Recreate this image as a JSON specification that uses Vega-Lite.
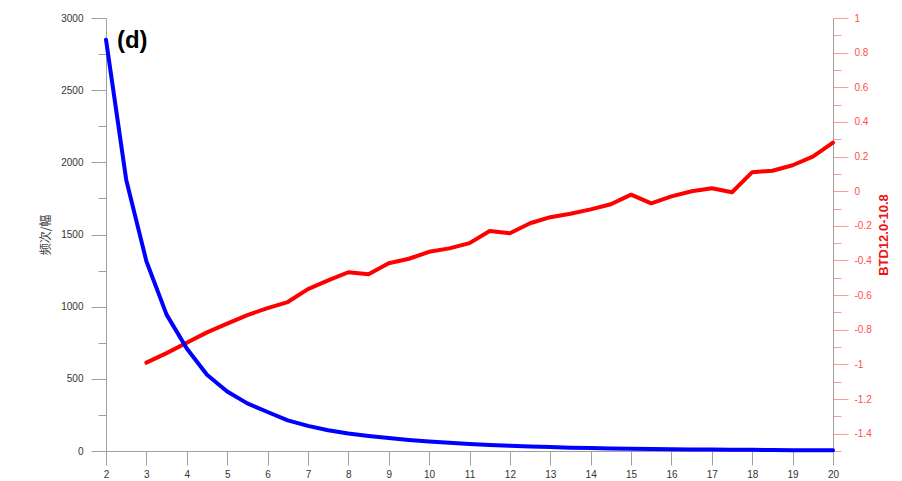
{
  "$schema": "https://vega.github.io/schema/vega-lite/v6.json",
  "width": 727,
  "height": 433,
  "autosize": "none",
  "padding": {"left": 106, "top": 18, "right": 69, "bottom": 30},
  "background": "white",
  "config": {
    "view": {"stroke": null},
    "axis": {
      "labelFont": "Liberation Sans",
      "titleFont": "Liberation Sans",
      "grid": false,
      "domainColor": "#a0a0a0",
      "tickColor": "#a0a0a0",
      "labelFontSize": 10,
      "labelColor": "#333333"
    }
  },
  "data": {
    "values": [
      {"x": 2, "freq": 2850, "btd": null},
      {"x": 2.5, "freq": 1880, "btd": null},
      {"x": 3, "freq": 1315, "btd": -0.99},
      {"x": 3.5, "freq": 945, "btd": -0.935},
      {"x": 4, "freq": 710, "btd": -0.875},
      {"x": 4.5, "freq": 528, "btd": -0.815},
      {"x": 5, "freq": 412, "btd": -0.765},
      {"x": 5.5, "freq": 330, "btd": -0.715},
      {"x": 6, "freq": 270, "btd": -0.675},
      {"x": 6.5, "freq": 212, "btd": -0.64},
      {"x": 7, "freq": 174, "btd": -0.565},
      {"x": 7.5, "freq": 144, "btd": -0.515},
      {"x": 8, "freq": 121, "btd": -0.468},
      {"x": 8.5, "freq": 104, "btd": -0.48},
      {"x": 9, "freq": 90, "btd": -0.416},
      {"x": 9.5, "freq": 77, "btd": -0.39},
      {"x": 10, "freq": 66, "btd": -0.35},
      {"x": 10.5, "freq": 57, "btd": -0.33},
      {"x": 11, "freq": 49, "btd": -0.3},
      {"x": 11.5, "freq": 42, "btd": -0.23},
      {"x": 12, "freq": 36, "btd": -0.243},
      {"x": 12.5, "freq": 31, "btd": -0.185},
      {"x": 13, "freq": 27, "btd": -0.15},
      {"x": 13.5, "freq": 23, "btd": -0.13},
      {"x": 14, "freq": 20, "btd": -0.105},
      {"x": 14.5, "freq": 17, "btd": -0.075},
      {"x": 15, "freq": 15, "btd": -0.02},
      {"x": 15.5, "freq": 13, "btd": -0.07},
      {"x": 16, "freq": 12, "btd": -0.03},
      {"x": 16.5, "freq": 11, "btd": 0.0},
      {"x": 17, "freq": 10, "btd": 0.017},
      {"x": 17.5, "freq": 9, "btd": -0.006},
      {"x": 18, "freq": 8, "btd": 0.11},
      {"x": 18.5, "freq": 7, "btd": 0.118},
      {"x": 19, "freq": 6, "btd": 0.15},
      {"x": 19.5, "freq": 5, "btd": 0.2},
      {"x": 20, "freq": 5, "btd": 0.28}
    ]
  },
  "layer": [
    {
      "mark": {"type": "line", "color": "#ff0000", "strokeWidth": 4, "strokeJoin": "round", "strokeCap": "round"},
      "encoding": {
        "x": {
          "field": "x",
          "type": "quantitative",
          "scale": {"domain": [2, 20], "nice": false, "zero": false},
          "axis": {
            "orient": "bottom",
            "title": null,
            "values": [2, 2.5, 3, 3.5, 4, 4.5, 5, 5.5, 6, 6.5, 7, 7.5, 8, 8.5, 9, 9.5, 10, 10.5, 11, 11.5, 12, 12.5, 13, 13.5, 14, 14.5, 15, 15.5, 16, 16.5, 17, 17.5, 18, 18.5, 19, 19.5, 20],
            "labelExpr": "datum.value % 1 === 0 ? datum.label : ''",
            "tickSize": {"condition": {"test": "datum.value % 1 === 0", "value": 14}, "value": 8},
            "labelPadding": 4,
            "labelFlush": false,
            "labelOverlap": false
          }
        },
        "y": {
          "field": "btd",
          "type": "quantitative",
          "scale": {"domain": [-1.5, 1], "nice": false, "zero": false},
          "axis": {
            "orient": "right",
            "title": "BTD12.0-10.8",
            "titleColor": "#ee1111",
            "titleFontWeight": "bold",
            "titleFontSize": 13,
            "titleAngle": 270,
            "titleBaseline": "top",
            "titlePadding": 6,
            "values": [-1.5, -1.4, -1.3, -1.2, -1.1, -1, -0.9, -0.8, -0.7, -0.6, -0.5, -0.4, -0.3, -0.2, -0.1, 0, 0.1, 0.2, 0.3, 0.4, 0.5, 0.6, 0.7, 0.8, 0.9, 1],
            "labelExpr": "abs(round(datum.value * 10)) % 2 === 0 ? replace(format(datum.value, '~g'), '\u2212', '-') : ''",
            "tickSize": {"condition": {"test": "abs(round(datum.value * 10)) % 2 === 0", "value": 15}, "value": 8},
            "tickColor": "#ff9a9a",
            "labelColor": "#ff4d4d",
            "labelPadding": 6,
            "labelFlush": false,
            "labelOverlap": false
          }
        }
      }
    },
    {
      "mark": {"type": "line", "color": "#0000ff", "strokeWidth": 4, "strokeJoin": "round", "strokeCap": "round"},
      "encoding": {
        "x": {"field": "x", "type": "quantitative"},
        "y": {
          "field": "freq",
          "type": "quantitative",
          "scale": {"domain": [0, 3000], "nice": false},
          "axis": {
            "orient": "left",
            "title": "频次/幅",
            "titleFont": "Noto Sans CJK SC",
            "titleFontWeight": "normal",
            "titleFontSize": 12,
            "titleColor": "#444444",
            "titlePadding": 8,
            "values": [0, 250, 500, 750, 1000, 1250, 1500, 1750, 2000, 2250, 2500, 2750, 3000],
            "format": "d",
            "labelExpr": "datum.value % 500 === 0 ? datum.label : ''",
            "tickSize": {"condition": {"test": "datum.value % 500 === 0", "value": 15}, "value": 8},
            "labelPadding": 8,
            "labelFlush": false,
            "labelOverlap": false
          }
        }
      }
    },
    {
      "data": {"values": [{"x": 2.27, "y": 2840, "label": "(d)"}]},
      "mark": {"type": "text", "font": "Liberation Sans", "fontWeight": "bold", "fontSize": 24, "align": "left", "baseline": "middle", "color": "#000000"},
      "encoding": {
        "x": {"field": "x", "type": "quantitative"},
        "y": {"field": "y", "type": "quantitative", "scale": {"domain": [0, 3000], "nice": false}, "axis": null},
        "text": {"field": "label"}
      }
    }
  ],
  "resolve": {"scale": {"y": "independent"}, "axis": {"y": "independent"}}
}
